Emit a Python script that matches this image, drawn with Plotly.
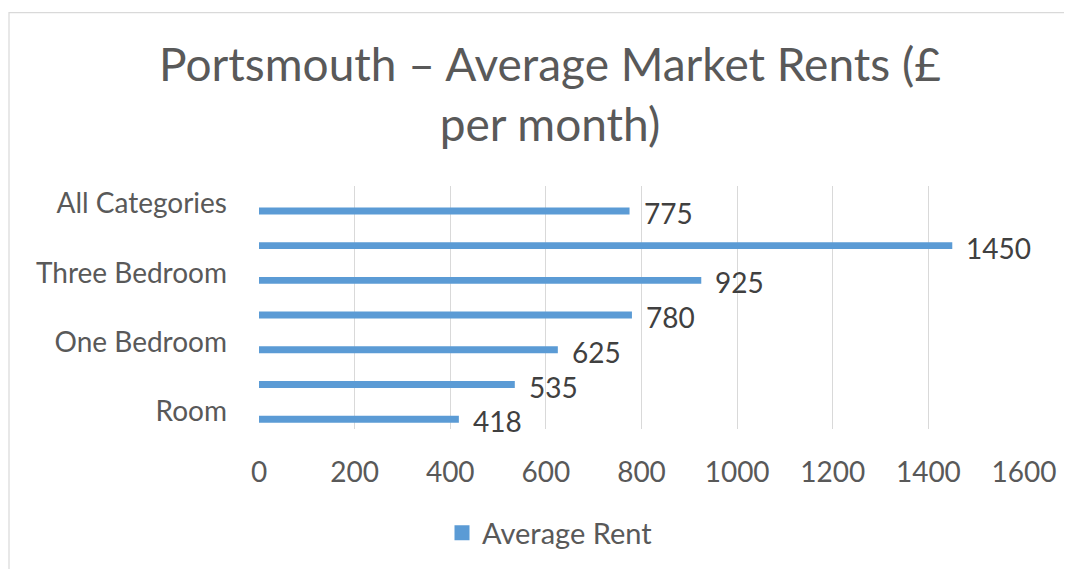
import plotly.graph_objects as go

categories = ["Room", "Studio", "One Bedroom", "Two Bedroom", "Three Bedroom", "Four Bedroom", "All Categories"]
values = [418, 535, 625, 780, 925, 1450, 775]
shown_labels = ["Room", "One Bedroom", "Three Bedroom", "All Categories"]
x_ticks = [0, 200, 400, 600, 800, 1000, 1200, 1400, 1600]

FONT = "Lato"
GREY = "#595959"
BLUE = "#5B9BD5"

# page body has an 8px margin; work in reference pixel coords and shift
O = 8
W, H = 1072 - O, 569 - O
L, R, T, B = 259 - O, 1024 - O, 186 - O, 430 - O
pw, ph = R - L, B - T
band = ph / len(categories)


def px(x):
    return (x - O - L) / pw


def py(y):
    return (B - (y - O)) / ph


BAR_W = 0.2
BAR_SHIFT = 7.6 / band  # bars sit below the category centre

fig = go.Figure()
fig.add_trace(go.Bar(
    y=categories, x=values, orientation="h",
    name="Average Rent",
    marker=dict(color=BLUE, line=dict(width=0)),
    width=BAR_W, offset=-BAR_SHIFT - BAR_W / 2,
    showlegend=False,
    cliponaxis=False,
))
# legend entry with a larger square swatch
fig.add_trace(go.Scatter(
    x=[None], y=[None], mode="markers", name="Average Rent",
    marker=dict(symbol="square", size=15, color=BLUE),
))

annotations = [
    dict(x=v, y=c, xref="x", yref="y", text=str(v), showarrow=False,
         xanchor="left", yanchor="middle", xshift=12, yshift=-(7.6 + 2),
         font=dict(family=FONT, size=28, color="#404040"))
    for c, v in zip(categories, values)
]

fig.update_layout(
    width=W, height=H,
    margin=dict(l=L, r=W - R, t=T, b=H - B, pad=0),
    paper_bgcolor="white", plot_bgcolor="white",
    font=dict(family=FONT, color=GREY),
    title=dict(
        text="Portsmouth – Average Market Rents (£<br>per month)",
        x=(550 - O) / W, xanchor="center", y=1 - (81 - O) / H, yanchor="middle",
        font=dict(family=FONT, size=46, color=GREY),
    ),
    bargap=0.8,
    showlegend=True,
    legend=dict(
        orientation="h", x=px(550), xanchor="center", y=py(533), yanchor="middle",
        font=dict(family=FONT, size=29, color=GREY),
        itemsizing="trace",
    ),
    xaxis=dict(
        range=[0, 1600], tickvals=x_ticks, ticktext=[str(t) for t in x_ticks],
        showgrid=True, gridcolor="#D9D9D9", gridwidth=1.2,
        zeroline=False, showline=False, ticks="",
        tickfont=dict(family=FONT, size=28, color=GREY),
        ticklabelstandoff=24,
    ),
    yaxis=dict(
        categoryorder="array", categoryarray=categories,
        range=[-0.5, len(categories) - 0.5], autorange=False,
        tickvals=shown_labels, ticktext=shown_labels,
        showgrid=False, zeroline=False, showline=False, ticks="",
        tickfont=dict(family=FONT, size=28, color=GREY),
        ticklabelstandoff=31,
    ),
    annotations=annotations,
    shapes=[dict(
        type="rect", xref="paper", yref="paper",
        x0=px(9), x1=px(1070), y0=py(580), y1=py(12),
        line=dict(color="#D9D9D9", width=1.2), fillcolor="rgba(0,0,0,0)", layer="below",
    )],
)

fig.write_html("out.html")
